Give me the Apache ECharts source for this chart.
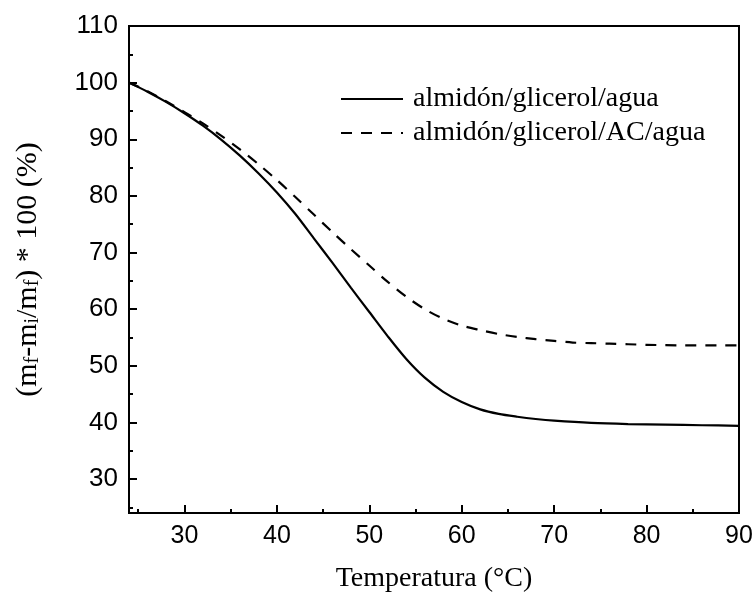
<!DOCTYPE html>
<html>
<head>
<meta charset="utf-8">
<script src="https://cdn.jsdelivr.net/npm/echarts@6/dist/echarts.min.js"></script>
<style>html,body{margin:0;padding:0;background:#fff}#c{width:754px;height:596px}</style>
</head>
<body>
<div id="c"></div>
<script>
const seriesNames = ['almidón/glicerol/agua', 'almidón/glicerol/AC/agua'];
const tempsSolid = [24, 26, 28, 30, 32, 34, 36, 38, 40, 42, 44, 46, 48, 50, 52, 54, 56, 58, 60, 62, 64, 66, 68, 70, 74, 78, 82, 86, 90];
const valsSolid = [100, 98.4, 96.6, 94.6, 92.4, 89.9, 87.1, 84.0, 80.6, 76.8, 72.5, 68.2, 63.8, 59.5, 55.2, 51.2, 47.9, 45.4, 43.6, 42.3, 41.5, 41.0, 40.6, 40.3, 39.9, 39.7, 39.6, 39.5, 39.4];
const tempsDash = [24, 26, 28, 30, 32, 34, 36, 38, 40, 42, 44, 46, 48, 50, 52, 54, 56, 58, 60, 62, 64, 66, 68, 70, 72, 74, 76, 78, 80, 84, 88, 90];
const valsDash = [100, 98.5, 96.7, 94.8, 92.8, 90.6, 88.2, 85.6, 82.8, 79.8, 76.7, 73.6, 70.6, 67.7, 64.8, 62.2, 60.0, 58.3, 57.1, 56.3, 55.6, 55.1, 54.7, 54.4, 54.1, 54.0, 53.9, 53.8, 53.7, 53.6, 53.6, 53.6];
const xMajor = [30, 40, 50, 60, 70, 80, 90];
const xMinor = [25, 35, 45, 55, 65, 75, 85];
const yMajor = [30, 40, 50, 60, 70, 80, 90, 100, 110];
const yMinor = [25, 35, 45, 55, 65, 75, 85, 95, 105];

const chart = echarts.init(document.getElementById('c'));
const gridPos = {left: 129, right: 15, top: 26, bottom: 83, containLabel: false, outerBoundsMode: 'none'};
const axisLine = {show: true, lineStyle: {color: '#000', width: 2}};
chart.setOption({
  animation: false,
  backgroundColor: '#fff',
  grid: [
    Object.assign({show: true, borderColor: '#000', borderWidth: 2, backgroundColor: 'transparent'}, gridPos),
    Object.assign({show: false}, gridPos)
  ],
  legend: {
    orient: 'vertical', left: 335, top: 80, itemWidth: 62, itemHeight: 14, itemGap: 6,
    itemStyle: {opacity: 0},
    textStyle: {fontFamily: 'Liberation Serif', fontSize: 28, color: '#000', padding: [0, 0, 0, 5]},
    data: seriesNames
  },
  xAxis: [
    {
      type: 'value', gridIndex: 0, min: 24, max: 90,
      axisLine: axisLine,
      axisTick: {show: true, inside: true, length: 8, lineStyle: {color: '#000', width: 2}, customValues: xMajor},
      axisLabel: {fontFamily: 'Liberation Sans', fontSize: 25, color: '#000', margin: 11, customValues: xMajor},
      splitLine: {show: false},
      name: 'Temperatura (°C)', nameLocation: 'middle', nameGap: 52,
      nameTextStyle: {fontFamily: 'Liberation Serif', fontSize: 28, color: '#000'}
    },
    {
      type: 'value', gridIndex: 1, min: 24, max: 90,
      axisLine: {show: false},
      axisTick: {show: true, inside: true, length: 4, lineStyle: {color: '#000', width: 2}, customValues: xMinor},
      axisLabel: {show: false}, splitLine: {show: false}
    }
  ],
  yAxis: [
    {
      type: 'value', gridIndex: 0, min: 24, max: 110,
      axisLine: axisLine,
      axisTick: {show: true, inside: true, length: 8, lineStyle: {color: '#000', width: 2}, customValues: yMajor},
      axisLabel: {fontFamily: 'Liberation Sans', fontSize: 26, color: '#000', margin: 11, customValues: yMajor},
      splitLine: {show: false},
      name: '{a|(m}{s|f}{a|-m}{s|i}{a|/m}{s|f}{a|) * 100 (%)}',
      nameLocation: 'middle', nameRotate: 90, nameGap: 86,
      nameTextStyle: {
        fontFamily: 'Liberation Serif', color: '#000',
        rich: {
          a: {fontFamily: 'Liberation Serif', fontSize: 30, lineHeight: 30, verticalAlign: 'top', color: '#000'},
          s: {fontFamily: 'Liberation Serif', fontSize: 20, lineHeight: 20, verticalAlign: 'bottom', padding: [22, 0, 0, 0], color: '#000'}
        }
      }
    },
    {
      type: 'value', gridIndex: 1, min: 24, max: 110,
      axisLine: {show: false},
      axisTick: {show: true, inside: true, length: 4, lineStyle: {color: '#000', width: 2}, customValues: yMinor},
      axisLabel: {show: false}, splitLine: {show: false}
    }
  ],
  series: [
    {
      name: seriesNames[0], type: 'line', xAxisIndex: 0, yAxisIndex: 0,
      data: tempsSolid.map((t, i) => [t, valsSolid[i]]),
      smooth: 0.3, symbol: 'none', color: '#000',
      lineStyle: {color: '#000', width: 2.2, type: 'solid'}
    },
    {
      name: seriesNames[1], type: 'line', xAxisIndex: 0, yAxisIndex: 0,
      data: tempsDash.map((t, i) => [t, valsDash[i]]),
      smooth: 0.3, symbol: 'none', color: '#000',
      lineStyle: {color: '#000', width: 2.2, type: [11, 9]}
    }
  ]
});
</script>
</body>
</html>
